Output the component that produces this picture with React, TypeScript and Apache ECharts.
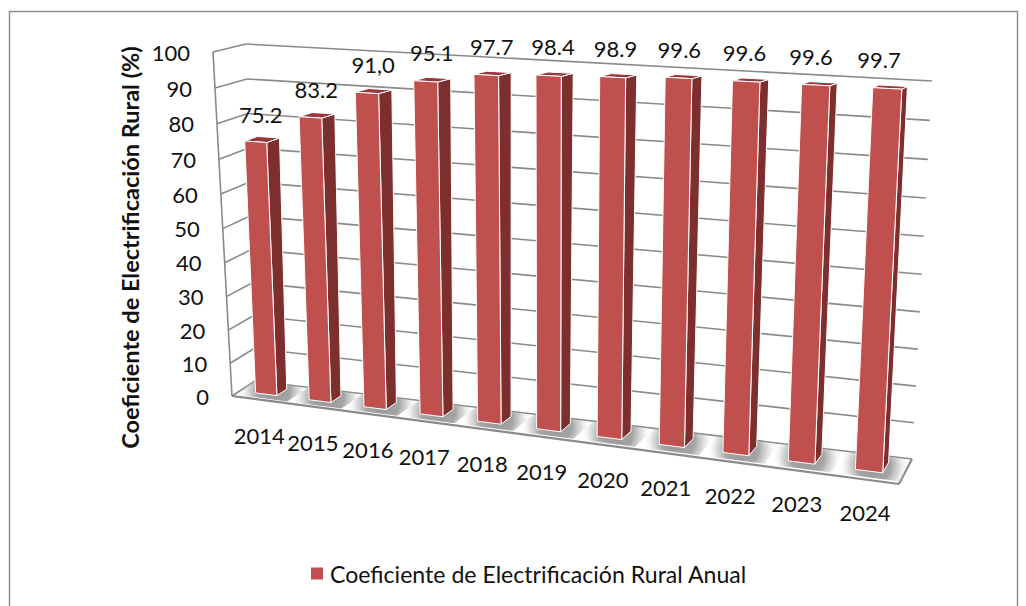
import React, { useEffect, useRef } from "react";
import * as echarts from "echarts";

const categories = ["2014","2015","2016","2017","2018","2019","2020","2021","2022","2023","2024"];
const values = [75.2, 83.2, 91.0, 95.1, 97.7, 98.4, 98.9, 99.6, 99.6, 99.6, 99.7];
const valueLabels = ["75.2","83.2","91,0","95.1","97.7","98.4","98.9","99.6","99.6","99.6","99.7"];
const tickValues = [0,10,20,30,40,50,60,70,80,90,100];
const tickLabels = ["0","10","20","30","40","50","60","70","80","90","100"];
const seriesName = "Coeficiente de Electrificación Rural Anual";
const axisName = "Coeficiente de Electrificación Rural (%)";

const FONT = "Lato";
const GREY = "#8a8a8a";
type P = [number, number];

// 3D box corners, as seen on the page
const BACK: P[] = [[255, 381], [912, 459], [932, 81], [246, 44]];
const FRONT: P[] = [[232, 396], [899, 484], [920, 87], [213, 52]];

function project(u: number, h: number, d: number): P {
  const q = BACK.map((b, i) => [b[0] + (FRONT[i][0] - b[0]) * d, b[1] + (FRONT[i][1] - b[1]) * d]);
  const [[x0, y0], [x1, y1], [x2, y2], [x3, y3]] = q;
  const dx1 = x1 - x2, dx2 = x3 - x2, sx = x0 - x1 + x2 - x3;
  const dy1 = y1 - y2, dy2 = y3 - y2, sy = y0 - y1 + y2 - y3;
  const den = dx1 * dy2 - dx2 * dy1;
  const g = (sx * dy2 - dx2 * sy) / den;
  const k = (dx1 * sy - sx * dy1) / den;
  const a = x1 - x0 + g * x1, b = x3 - x0 + k * x3;
  const c = y1 - y0 + g * y1, e = y3 - y0 + k * y3;
  const w = g * u + k * h + 1;
  return [(a * u + b * h + x0) / w, (c * u + e * h + y0) / w];
}

function norm(api: any, params: any, cat: number, val: number) {
  const cs = params.coordSys;
  const p = api.coord([cat, val]);
  return { u: (p[0] - cs.x) / cs.width, h: 1 - (p[1] - cs.y) / cs.height };
}
const line = (a: P, b: P, lw = 1.6, stroke = GREY) => ({
  type: "line", silent: true,
  shape: { x1: a[0], y1: a[1], x2: b[0], y2: b[1] },
  style: { stroke, lineWidth: lw },
});
const poly = (points: P[], fill: any, stroke?: string, lw = 1) => ({
  type: "polygon", silent: true,
  shape: { points },
  style: { fill, stroke: stroke ?? "none", lineWidth: lw },
});
const label = (text: string, x: number, y: number, align: string, size = 22) => ({
  type: "text", silent: true,
  style: { text, x, y, fill: "#111", fontFamily: FONT, fontSize: size, textAlign: align, textVerticalAlign: "middle" },
});

const BAR_HALF = 0.2; // share of a category band
const BAR_HEIGHT = 0.99; // bars stop just under the wall's gridlines
const D0 = 0.24, D1 = 0.66;

function renderWall(params: any, api: any) {
  const v = api.value(1);
  const { h } = norm(api, params, 0, v);
  const fl = project(0, h, 1), bl = project(0, h, 0), br = project(1, h, 0);
  const children: any[] = [];
  if (v === 0) {
    children.push(poly([project(0,0,0), project(1,0,0), project(1,0,1), project(0,0,1)], "#ffffff"));
    children.push(line(project(0,0,1), project(1,0,1), 2.2));
    children.push(line(project(1,0,1), project(1,0,0), 2.2));
    children.push(line(project(0,0,1), project(0,1,1), 1.6));
  }
  children.push(line(fl, bl), line(bl, br));
  children.push(label(tickLabels[params.dataIndex], fl[0] - 23, fl[1], "right"));
  return { type: "group", children };
}

function renderShadow(params: any, api: any) {
  const i = api.value(0);
  const { u } = norm(api, params, i, 0);
  const band = api.size([1, 0])[0] / params.coordSys.width;
  const a = u - band * 0.5, b = u + band * 0.5;
  const c = project(u, 0, 0.45);
  const grad = new echarts.graphic.RadialGradient(c[0] + 2, c[1], band * params.coordSys.width * 0.43, [
    { offset: 0, color: "rgba(150,150,150,1)" },
    { offset: 0.5, color: "rgba(160,160,160,0.95)" },
    { offset: 0.75, color: "rgba(195,195,195,0.6)" },
    { offset: 1, color: "rgba(235,235,235,0)" },
  ], true);
  return poly([project(a,0,0.03), project(b,0,0.03), project(b,0,0.9), project(a,0,0.9)], grad);
}

function renderBar(params: any, api: any) {
  const i = api.value(0);
  const { u } = norm(api, params, i, 0);
  const raw = norm(api, params, i, api.value(1)).h;
  const h = raw * BAR_HEIGHT;
  const band = api.size([1, 0])[0] / params.coordSys.width;
  const a = u - band * BAR_HALF, b = u + band * BAR_HALF;
  const fb0 = project(a,0,D1), fb1 = project(b,0,D1), ft0 = project(a,h,D1), ft1 = project(b,h,D1);
  const bb1 = project(b,0,D0), bt1 = project(b,h,D0), bt0 = project(a,h,D0);
  return {
    type: "group",
    children: [
      poly([fb1, bb1, bt1, ft1], "#7d2f2e", "#ffffff", 1),
      poly([ft0, ft1, bt1, bt0], "#97393a", "#ffffff", 1),
      poly([fb0, fb1, ft1, ft0], "#c0504d", "#ffffff", 1),
    ],
  };
}

function renderLabels(params: any, api: any) {
  const i = api.value(0);
  const { u } = norm(api, params, i, 0);
  const { h } = norm(api, params, i, api.value(1));
  const top = project(u, h, D1);
  const bot = project(u, 0, 1);
  const dx = 12 - 15 * u - 30 * (u - 0.5) * (u - 0.5);
  return {
    type: "group",
    children: [
      label(valueLabels[params.dataIndex], top[0] + dx, top[1] - 25, "center"),
      label(categories[params.dataIndex], bot[0] + 1, bot[1] + 36 - 3 * u, "center"),
    ],
  };
}

export default function App() {
  const ref = useRef<HTMLDivElement>(null);
  useEffect(() => {
    const chart = echarts.init(ref.current!, undefined, { renderer: "svg" });
    const barData = values.map((v, i) => [categories[i], v]);
    chart.setOption({
      animation: false,
      backgroundColor: "#ffffff",
      graphic: [{
        type: "rect", z: -10, silent: true,
        shape: { x: 9.5, y: 11.5, width: 1008, height: 700 },
        style: { fill: "#ffffff", stroke: "#8f8f8f", lineWidth: 1.5 },
      }],
      legend: {
        data: [seriesName], left: 311, top: 562, padding: 0,
        icon: "rect", itemWidth: 12, itemHeight: 12, itemGap: 5,
        textStyle: { fontFamily: FONT, fontSize: 23.1, color: "#111", padding: [0, 0, 0, 2] },
      },
      grid: { left: 140, right: 26, top: 47, height: 401, containLabel: false },
      xAxis: { type: "category", data: categories, show: false },
      yAxis: {
        type: "value", min: 0, max: 100, interval: 10,
        name: axisName, nameLocation: "middle", nameGap: -2, nameRotate: 90,
        nameTextStyle: { fontFamily: FONT, fontSize: 23.5, fontWeight: "bold", color: "#111" },
        axisLine: { show: false }, axisTick: { show: false }, axisLabel: { show: false }, splitLine: { show: false },
      },
      series: [
        { type: "custom", name: "walls", silent: true, renderItem: renderWall, encode: { x: 0, y: 1 },
          data: tickValues.map((t) => [categories[0], t]) },
        { type: "custom", name: "shadow", silent: true, renderItem: renderShadow, encode: { x: 0, y: 1 }, data: barData },
        { type: "custom", name: seriesName, silent: true, renderItem: renderBar, encode: { x: 0, y: 1 }, data: barData,
          itemStyle: { color: "#c0504d" } },
        { type: "custom", name: "labels", silent: true, renderItem: renderLabels, encode: { x: 0, y: 1 }, data: barData },
      ],
    });
    return () => chart.dispose();
  }, []);
  return <div ref={ref} style={{ position: "absolute", left: 0, top: 0, width: 1026, height: 606 }} />;
}
